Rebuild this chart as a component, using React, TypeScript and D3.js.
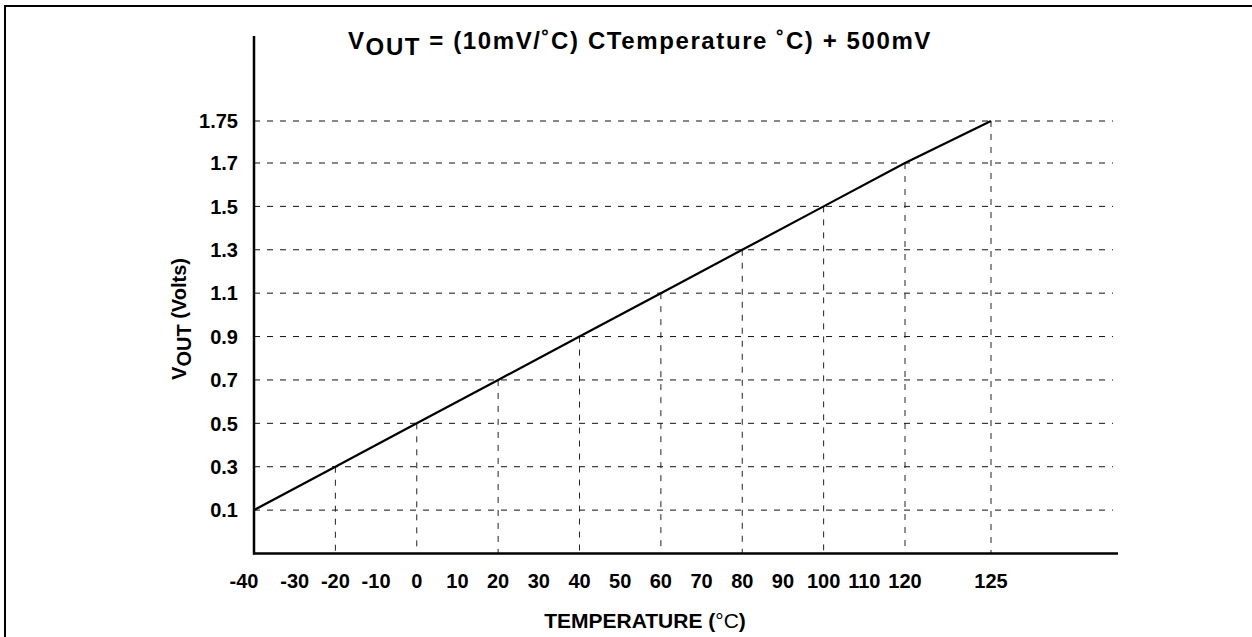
import * as d3 from 'd3';

const tempPoints = [-40, -20, 0, 20, 40, 60, 80, 100, 120, 125];
const voltPoints = [0.1, 0.3, 0.5, 0.7, 0.9, 1.1, 1.3, 1.5, 1.7, 1.75];
const xTickLabels = [-40, -30, -20, -10, 0, 10, 20, 30, 40, 50, 60, 70, 80, 90, 100, 110, 120, 125];
const yTickLabels = [0.1, 0.3, 0.5, 0.7, 0.9, 1.1, 1.3, 1.5, 1.7, 1.75];

const W = 1252;
const H = 637;
const font = '"Liberation Sans", Arial, Helvetica, sans-serif';

export default function App() {
  // the original axis is not linear: 120 -> 125 takes a full step, same for 1.7 -> 1.75
  const x = d3.scaleLinear().domain([-40, 120, 125]).range([254, 905, 991]);
  const y = d3.scaleLinear().domain([-0.1, 1.7, 1.75]).range([553.5, 163, 121]);

  const x0 = x(-40);
  const y0 = y(-0.1);
  const gridRight = 1113;

  const pts = tempPoints.map((t, i) => [t, voltPoints[i]] as [number, number]);
  const line = d3.line<[number, number]>()
    .x(d => x(d[0]))
    .y(d => y(d[1]));

  return (
    <svg width={W} height={H} style={{ position: 'absolute', left: 0, top: 0, background: '#fff' }}
      fontFamily={font}>
      <rect x={0} y={0} width={W} height={H} fill="#fff" />
      {/* frame, only top and left edges are visible */}
      <rect x={5} y={6} width={W + 20} height={H + 20} fill="none" stroke="#000" strokeWidth={2} />

      {/* title */}
      <text x={348} y={49} fontSize={24} fontWeight="bold" fill="#000" letterSpacing={1.6}>
        V<tspan dy={6}>OUT</tspan><tspan dy={-6}> = (10mV/˚C) CTemperature ˚C) + 500mV</tspan>
      </text>

      {/* horizontal grid */}
      {yTickLabels.map(v => (
        <line key={'h' + v} x1={x0} x2={gridRight} y1={y(v)} y2={y(v)}
          stroke="#111" strokeWidth={1} strokeDasharray="6,7" />
      ))}

      {/* vertical drop lines */}
      {pts.slice(1).map(d => (
        <line key={'v' + d[0]} x1={x(d[0])} x2={x(d[0])} y1={y(d[1])} y2={y0}
          stroke="#222" strokeWidth={1} strokeDasharray="6,7" />
      ))}

      {/* data line */}
      <path d={line(pts) || ''} fill="none" stroke="#000" strokeWidth={2.2} />

      {/* axes */}
      <line x1={x0} x2={x0} y1={36} y2={y0 + 1} stroke="#000" strokeWidth={2.5} />
      <line x1={x0 - 1} x2={1118} y1={y0} y2={y0} stroke="#000" strokeWidth={2.5} />

      {/* y tick labels */}
      {yTickLabels.map(v => (
        <text key={'yl' + v} x={238} y={y(v)} dy="0.36em" textAnchor="end"
          fontSize={20} fontWeight="bold" fill="#000">
          {String(v)}
        </text>
      ))}

      {/* x tick labels */}
      {xTickLabels.map((t, i) => (
        <text key={'xl' + t} x={x(t) + (i === 0 ? -10 : 0)} y={588} textAnchor="middle"
          fontSize={20} fontWeight="bold" fill="#000">
          {String(t)}
        </text>
      ))}

      {/* axis titles */}
      <text transform="translate(186,319) rotate(-90)" textAnchor="middle"
        fontSize={20} fontWeight="bold" fill="#000">
        V<tspan dy={5}>OUT</tspan><tspan dy={-5}> (Volts)</tspan>
      </text>
      <text x={645} y={628} textAnchor="middle" fontSize={21} fontWeight="bold" fill="#000">
        TEMPERATURE (<tspan fontWeight="normal">°C</tspan>)
      </text>
    </svg>
  );
}
